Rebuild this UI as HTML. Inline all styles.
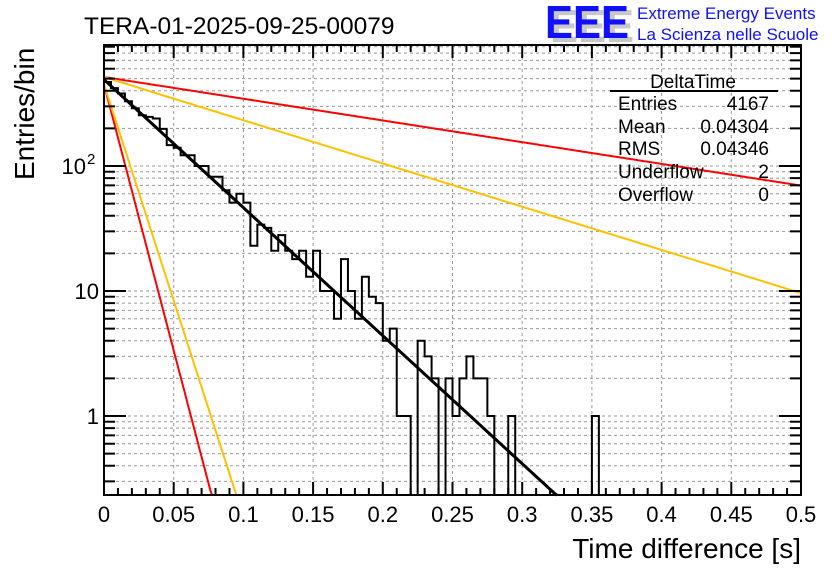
<!DOCTYPE html>
<html><head><meta charset="utf-8"><style>
body{margin:0;background:#fff;}
svg{display:block;font-family:"Liberation Sans",Arial,sans-serif;}
</style></head><body>
<svg id="c" width="836" height="572" viewBox="0 0 836 572">
<text x="84" y="34" font-size="24.5">TERA-01-2025-09-25-00079</text>
<g>
<text x="550" y="42" font-size="46" font-weight="bold" fill="#c8c8c8" textLength="84" lengthAdjust="spacingAndGlyphs">EEE</text>
<text x="545" y="38" font-size="46" font-weight="bold" fill="#1010ff" textLength="84" lengthAdjust="spacingAndGlyphs">EEE</text>
<text x="637" y="19" font-size="17" fill="#1010ff">Extreme Energy Events</text>
<text x="637" y="40" font-size="17" fill="#1010ff">La Scienza nelle Scuole</text>
</g>
<g id="grid"></g>
<g id="marks"></g>
<g id="axes"></g>
<g font-size="19">
<text x="693" y="88" text-anchor="middle">DeltaTime</text>
<line x1="610" y1="91" x2="778" y2="91" stroke="#000" stroke-width="2"/>
<text x="618" y="110">Entries</text><text x="769" y="110" text-anchor="end">4167</text>
<text x="618" y="133">Mean</text><text x="769" y="133" text-anchor="end">0.04304</text>
<text x="618" y="155">RMS</text><text x="769" y="155" text-anchor="end">0.04346</text>
<text x="618" y="178">Underflow</text><text x="769" y="178" text-anchor="end">2</text>
<text x="618" y="201">Overflow</text><text x="769" y="201" text-anchor="end">0</text>
</g>
<text x="801" y="558" font-size="28" text-anchor="end">Time difference [s]</text>
<text transform="translate(34,180) rotate(-90)" font-size="28">Entries/bin</text>
</svg>
<script>
const binWidth = 0.005;
const counts = [470,420,380,330,290,255,247,240,198,147,140,122,122,100,100,82,82,64,51,60,51,23,34,32,21,28,21,18,21,13,21,10,10,6,18,10,6,13,9,8,4,5,1,1,0,4,3,2,0,2,1,2,3,2,2,1,0,0,1,0,0,0,0,0,0,0,0,0,0,0,1,0,0,0,0,0,0,0,0,0,0,0,0,0,0,0,0,0,0,0,0,0,0,0,0,0,0,0,0,0];
const fitNames = ["fit-black","fit-red-slow","fit-orange-slow","fit-red-steep","fit-orange-steep"];
const fitAmp = [491,515,515,450,450];
const fitTau = [0.0424,0.25,0.1256,0.0102,0.01255];
const fitColor = ["#000","#ff0000","#ffc000","#ff0000","#ffc000"];
const xTicks = [0,0.05,0.1,0.15,0.2,0.25,0.3,0.35,0.4,0.45,0.5];
const xTickLabels = ["0","0.05","0.1","0.15","0.2","0.25","0.3","0.35","0.4","0.45","0.5"];

const X0=104,X1=801,Y0=495,Y1=45;
const xmin=0,xmax=0.5;
const ymin=Math.pow(10,(416-495)/125), ymax=Math.pow(10,(416-45)/125);
const sx=v=>X0+(v-xmin)/(xmax-xmin)*(X1-X0);
const sy=v=>{v=Math.max(v,ymin*0.5);return Y0-(Math.log10(v)-Math.log10(ymin))/(Math.log10(ymax)-Math.log10(ymin))*(Y0-Y1);};
const NS="http://www.w3.org/2000/svg";
function mk(tag,attrs,parent){const e=document.createElementNS(NS,tag);for(const k in attrs)e.setAttribute(k,attrs[k]);parent.appendChild(e);return e;}
const grid=document.getElementById('grid'),marks=document.getElementById('marks'),axes=document.getElementById('axes');
xTicks.forEach(t=>{if(t>xmin&&t<xmax){const l=mk('line',{x1:sx(t),x2:sx(t),y1:Y1,y2:Y0,stroke:'#999','stroke-dasharray':'3,3','stroke-width':1},grid);

}});
for(let d=-1;d<=2;d++)for(let m=1;m<=9;m++){const v=m*Math.pow(10,d);if(v<=ymin||v>=ymax)continue;
const l=mk('line',{x1:X0,x2:X1,y1:sy(v),y2:sy(v),stroke:'#999','stroke-dasharray':'3,3','stroke-width':1},grid);

}
fitNames.forEach((n,k)=>{let pts=[];for(let i=0;i<=400;i++){const x=xmin+(xmax-xmin)*i/400;const v=fitAmp[k]*Math.exp(-x/fitTau[k]);if(v<ymin){pts.push(sx(x)+','+sy(ymin));break;}pts.push(sx(x).toFixed(1)+','+sy(v).toFixed(1));}
const p=mk('polyline',{points:pts.join(' '),fill:'none',stroke:fitColor[k],'stroke-width':k==0?3:2},marks);

});
let d='M'+sx(0)+','+Y0;
counts.forEach((c,i)=>{const y=c>0?sy(c):Y0;d+=' L'+sx(i*binWidth).toFixed(2)+','+y.toFixed(1)+' L'+sx((i+1)*binWidth).toFixed(2)+','+y.toFixed(1);});
d+=' L'+sx(counts.length*binWidth)+','+Y0;
const h=mk('path',{d:d,fill:'none',stroke:'#000','stroke-width':2},marks);


mk('rect',{x:X0,y:Y1,width:X1-X0,height:Y0-Y1,fill:'none',stroke:'#000','stroke-width':2},axes);
for(let i=0;i<=50;i++){const t=i*0.01;const x=sx(t);const len=(i%5==0)?13:7;
mk('line',{x1:x,x2:x,y1:Y0,y2:Y0-len,stroke:'#000','stroke-width':2},axes);
mk('line',{x1:x,x2:x,y1:Y1,y2:Y1+len,stroke:'#000','stroke-width':2},axes);}
xTicks.forEach((t,i)=>{const tx=mk('text',{x:sx(t),y:522,'font-size':22,'text-anchor':'middle'},axes);tx.textContent=xTickLabels[i];

});
for(let dd=-1;dd<=2;dd++)for(let m=1;m<=9;m++){const v=m*Math.pow(10,dd);if(v<=ymin||v>=ymax)continue;const y=sy(v);const len=m==1?22:11;
mk('line',{x1:X0,x2:X0+len,y1:y,y2:y,stroke:'#000','stroke-width':2},axes);
mk('line',{x1:X1,x2:X1-len,y1:y,y2:y,stroke:'#000','stroke-width':2},axes);}
[[1,'1',99],[10,'10',99],[100,'10',86]].forEach(([v,s,x],i)=>{const t=mk('text',{x:x,y:sy(v)+8,'font-size':22,'text-anchor':'end'},axes);t.textContent=s;


if(i==2){const sp=mk('text',{x:87,y:sy(v)-2,'font-size':15},axes);sp.textContent='2';

}});
</script>
</body></html>
